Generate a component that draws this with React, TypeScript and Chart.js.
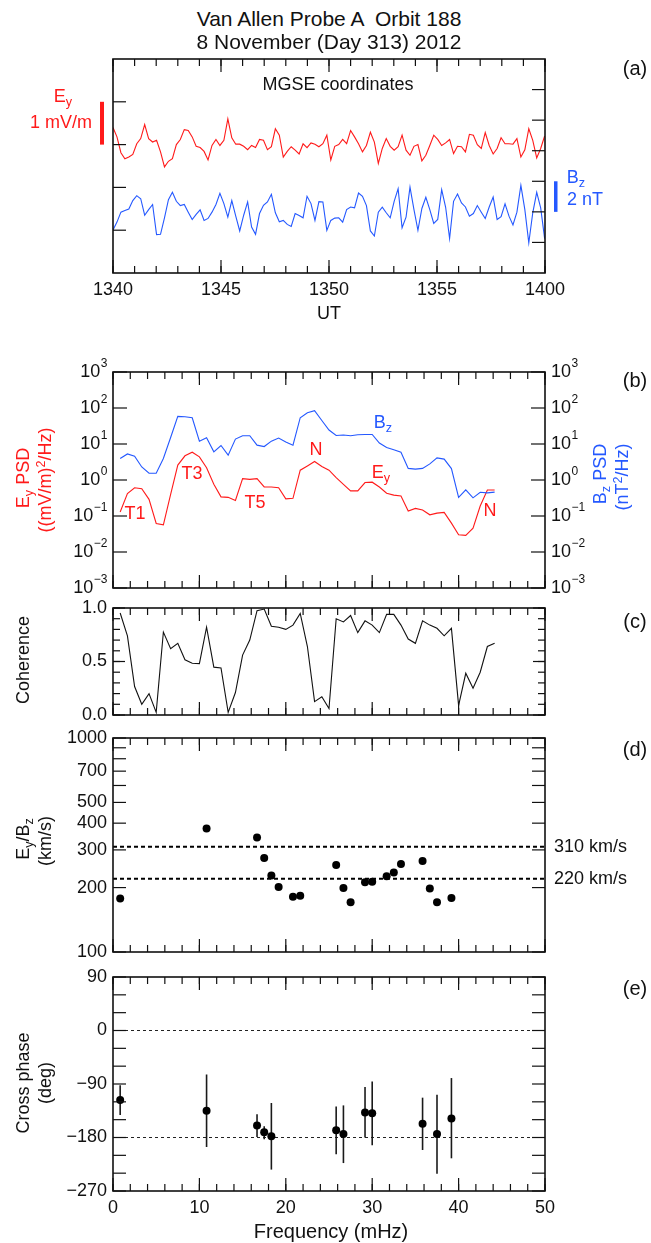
import React, { useEffect, useRef } from 'react';
import { Chart, registerables } from 'chart.js';

Chart.register(...registerables);

// ================= DATA =================
// Panel (a): 11-s spin-resolution time series, 13:40-14:00 UT
const SAMPLE_SECONDS = 11;
const EY_TRACE = [
  0.40, 0.18, -0.19, -0.33, -0.29, -0.23, 0.02, 0.14, 0.47, 0.14,
  0.06, 0.10, -0.17, -0.52, -0.39, -0.33, 0.00, 0.12, 0.35, 0.33,
  0.18, -0.04, -0.07, -0.16, -0.36, -0.02, 0.12, -0.02, 0.10, 0.60,
  0.16, 0.01, 0.01, -0.04, -0.12, -0.02, -0.07, 0.12, 0.10, -0.12,
  -0.05, 0.37, 0.22, -0.29, -0.16, -0.05, -0.13, -0.22, 0.02, -0.07,
  0.04, 0.01, -0.05, 0.02, 0.22, -0.36,
  -0.04, 0.00, 0.12, 0.02, 0.33, 0.18, 0.02, -0.17, -0.02, 0.29,
  0.06, -0.44, -0.09, 0.14, -0.04, -0.13, -0.05, 0.22, -0.13, -0.25,
  -0.04, 0.00, -0.38, -0.25, -0.02, 0.22, 0.12, -0.02, 0.04, 0.12,
  -0.21, -0.04, -0.05, -0.17, 0.24, 0.22, 0.00, -0.09, 0.28, -0.02,
  -0.22, -0.09, 0.16, 0.02, 0.02, 0.01, 0.14, -0.29, -0.12, 0.37,
  0.10, -0.31, -0.09, 0.20,
];
const BZ_TRACE = [
  -1.19, -0.67, -0.02, 0.09, 0.19, 0.74, 1.06, 0.86, -0.22, 0.15,
  0.48, -1.49, -1.47, -0.39, 0.80, 1.28, 0.69, 0.41, 0.48, -0.02,
  -0.50, -0.17, 0.13, -0.56, -0.43, -0.02, 0.48, 1.21, 0.54, -0.35,
  0.74, -0.28, -1.25, -0.22, 0.65, -0.99, -1.47, -0.11, 0.43, 0.65,
  1.15, -0.06, -0.65, -0.56, -0.82, -0.95, -0.11, -0.24, -0.39, 1.02,
  0.54, -0.56, 0.67, 0.65, -1.21, -0.56,
  -0.41, -0.39, -0.67, 0.15, 0.32, 0.26, 1.23, 1.02, 0.41, -1.25,
  -1.58, -0.02, 0.30, -0.06, -0.39, 0.69, 1.51, -1.04, -0.35, 1.62,
  0.15, -1.21, 0.22, 0.95, 0.15, -0.76, -0.50, 1.45, 0.30, -1.75,
  0.69, 1.17, 0.58, 0.32, -0.28, -0.11, 0.41, -0.02, -0.43, 0.32,
  0.97, -0.50, -0.32, 0.52, -0.28, -0.86, -0.02, 1.73, 0.15, -2.03,
  -0.06, 1.28, 0.26, -1.75,
];
const UT_SECONDS_RANGE = [0, 1200];
const UT_MAJOR_SECONDS = [0, 300, 600, 900, 1200];
const UT_TICK_LABELS = ['1340', '1345', '1350', '1355', '1400'];
const EY_AXIS_RANGE = [-3, 2]; // mV/m
const BZ_AXIS_RANGE = [-4, 10]; // nT
const EY_AXIS_TICKS = [-2, -1, 0, 1];
const BZ_AXIS_TICKS = [-2, 0, 2, 4, 6, 8];
const EY_SCALE_BAR = [0, 1]; // 1 mV/m
const BZ_SCALE_BAR = [0, 2]; // 2 nT

// Spectral panels
const FREQ_RANGE = [0, 50];
const FREQ_MHZ = [
  0.83, 1.67, 2.50, 3.33, 4.17, 5.00, 5.83, 6.67, 7.50, 8.33,
  9.17, 10.00, 10.83, 11.67, 12.50, 13.33, 14.17, 15.00, 15.83, 16.67,
  17.50, 18.33, 19.17, 20.00, 20.83, 21.67, 22.50, 23.33, 24.17, 25.00,
  25.83, 26.67, 27.50, 28.33, 29.17, 30.00, 30.83, 31.67, 32.50, 33.33,
  34.17, 35.00, 35.83, 36.67, 37.50, 38.33, 39.17, 40.00, 40.83, 41.67,
  42.50, 43.33, 44.17,
];
const BZ_PSD = [
  3.95, 5.3, 4.6, 2.3, 1.54, 1.54, 3.95, 15.2, 58.6, 57,
  53.7, 12, 14.9, 6.07, 9.1, 4.9, 13.7, 17, 17, 9.3,
  8.5, 12, 14.6, 11.3, 9.3, 53.7, 74, 84, 45, 24.4,
  17.3, 17.7, 17, 18, 18.4, 18.4, 10.6, 8.0, 6.9, 5.9,
  2.1, 2.0, 2.1, 2.8, 4.1, 3.8, 2.08, 0.33, 0.53, 0.32,
  0.455, 0.44, 0.46,
];
const EY_PSD = [
  0.129, 0.42, 0.61, 0.575, 0.29, 0.062, 0.057, 0.40, 2.6, 4.7,
  5.9, 4.4, 2.2, 0.76, 0.34, 0.33, 0.27, 1.09, 1.04, 1.09,
  0.64, 0.64, 0.61, 0.30, 0.31, 1.87, 2.46, 3.26, 2.37, 1.87,
  1.17, 0.76, 0.50, 0.50, 0.85, 0.87, 0.64, 0.43, 0.38, 0.36,
  0.137, 0.163, 0.146, 0.108, 0.12, 0.126, 0.0635, 0.030, 0.029, 0.046,
  0.19, 0.53, 0.53,
];
const COHERENCE = [
  0.953, 0.74, 0.266, 0.10, 0.20, 0.025, 0.775, 0.62, 0.67, 0.516,
  0.484, 0.48, 0.82, 0.447, 0.44, 0.025, 0.21, 0.56, 0.70, 0.975,
  0.99, 0.83, 0.82, 0.80, 0.84, 0.95, 0.64, 0.125, 0.17, 0.06,
  0.90, 0.87, 0.93, 0.77, 0.88, 0.84, 0.77, 0.94, 0.94, 0.84,
  0.71, 0.67, 0.88, 0.84, 0.81, 0.74, 0.81, 0.09, 0.39, 0.25,
  0.40, 0.64, 0.67,
];
const PSD_EXPONENTS = [-3, -2, -1, 0, 1, 2, 3];
const COH_RANGE = [0, 1];
const COH_LABEL_VALUES = [0, 0.5, 1];
const COH_LABELS = ['0.0', '0.5', '1.0'];

const RATIO_FREQ = [0.83, 10.83, 16.67, 17.50, 18.33, 19.17, 20.83, 21.67, 25.83, 26.67,
  27.50, 29.17, 30.00, 31.67, 32.50, 33.33, 35.83, 36.67, 37.50, 39.17];
const RATIO_KMS = [178, 378, 343, 275, 228, 201, 181, 183, 255, 199,
  171, 212, 213, 226, 235, 258, 266, 198, 171, 179];
const RATIO_RANGE = [100, 1000];
const RATIO_TICKS = [100, 200, 300, 400, 500, 600, 700, 800, 900, 1000];
const RATIO_LABELED = [100, 200, 300, 400, 500, 700, 1000];
const SPEED_REFS = [310, 220];

const PHASE_FREQ = [0.83, 10.83, 16.67, 17.50, 18.33, 25.83, 26.67, 29.17, 30.00, 35.83, 37.50, 39.17];
const PHASE_DEG = [-117, -135, -160, -171, -178, -168, -174, -138, -139, -157, -174, -148];
const PHASE_LO = [-142, -196, -179, -183, -234, -208, -223, -180, -193, -201, -241, -215];
const PHASE_HI = [-92, -74, -141, -161, -122, -128, -126, -95, -86, -113, -108, -80];
const PHASE_RANGE = [-270, 90];
const PHASE_LABELED = [-270, -180, -90, 0, 90];
const PHASE_REFS = [0, -180];
const FREQ_MAJOR = [0, 10, 20, 30, 40, 50];

// ================= STYLE / LAYOUT =================
const FONT = "'Liberation Sans', Arial, Helvetica, sans-serif";
const RED = '#ff1a1a';
const BLUE = '#2458ff';
const INK = '#111111';
const W = 651;
const PLOT_LEFT = 113;
const PLOT_RIGHT = 545;

type Box = { top: number; bottom: number; cTop: number; cBottom: number };
const BOX_A: Box = { top: 59, bottom: 273, cTop: 50, cBottom: 304 };
const BOX_B: Box = { top: 372, bottom: 588, cTop: 355, cBottom: 596 };
const BOX_C: Box = { top: 608, bottom: 715, cTop: 598, cBottom: 724 };
const BOX_D: Box = { top: 738, bottom: 952, cTop: 728, cBottom: 962 };
const BOX_E: Box = { top: 977, bottom: 1191, cTop: 966, cBottom: 1243 };

function steps(a: number, b: number, step: number) {
  const out: number[] = [];
  for (let v = a; v <= b + 1e-9; v += step) out.push(Math.round(v * 1000) / 1000);
  return out;
}

function seg(ctx: CanvasRenderingContext2D, x1: number, y1: number, x2: number, y2: number) {
  ctx.beginPath();
  ctx.moveTo(x1, y1);
  ctx.lineTo(x2, y2);
  ctx.stroke();
}

function frame(chart: any) {
  const { ctx, chartArea: a } = chart;
  ctx.strokeStyle = INK;
  ctx.lineWidth = 1.6;
  ctx.strokeRect(a.left, a.top, a.right - a.left, a.bottom - a.top);
}

function xTicks(chart: any, id: string, values: number[], len: number) {
  const { ctx, chartArea: a } = chart;
  const s = chart.scales[id];
  ctx.strokeStyle = INK;
  ctx.lineWidth = 1.2;
  values.forEach((v) => {
    const x = s.getPixelForValue(v);
    seg(ctx, x, a.bottom, x, a.bottom - len);
    seg(ctx, x, a.top, x, a.top + len);
  });
}

function yTicks(chart: any, id: string, values: number[], len: number, side: 'left' | 'right' | 'both') {
  const { ctx, chartArea: a } = chart;
  const s = chart.scales[id];
  ctx.strokeStyle = INK;
  ctx.lineWidth = 1.2;
  values.forEach((v) => {
    const y = s.getPixelForValue(v);
    if (side !== 'right') seg(ctx, a.left, y, a.left + len, y);
    if (side !== 'left') seg(ctx, a.right, y, a.right - len, y);
  });
}

function xLabels(chart: any, id: string, values: number[], texts: string[], dy: number) {
  const { ctx, chartArea: a } = chart;
  const s = chart.scales[id];
  ctx.fillStyle = INK;
  ctx.font = `18px ${FONT}`;
  ctx.textAlign = 'center';
  ctx.textBaseline = 'middle';
  values.forEach((v, i) => ctx.fillText(texts[i], s.getPixelForValue(v), a.bottom + dy));
}

function yLabels(chart: any, id: string, values: number[], texts: string[], gap: number) {
  const { ctx, chartArea: a } = chart;
  const s = chart.scales[id];
  ctx.fillStyle = INK;
  ctx.font = `18px ${FONT}`;
  ctx.textAlign = 'right';
  ctx.textBaseline = 'middle';
  values.forEach((v, i) => ctx.fillText(texts[i], a.left - gap, s.getPixelForValue(v)));
}

function powLabels(chart: any, id: string, exps: number[], side: 'left' | 'right', gap: number) {
  const { ctx, chartArea: a } = chart;
  const s = chart.scales[id];
  ctx.fillStyle = INK;
  ctx.textBaseline = 'middle';
  ctx.textAlign = 'left';
  exps.forEach((e) => {
    const y = s.getPixelForValue(Math.pow(10, e));
    const sup = e < 0 ? '\u2212' + Math.abs(e) : String(e);
    ctx.font = `18px ${FONT}`;
    const wb = ctx.measureText('10').width;
    ctx.font = `12px ${FONT}`;
    const ws = ctx.measureText(sup).width;
    const x0 = side === 'left' ? a.left - gap - wb - ws : a.right + gap;
    ctx.font = `18px ${FONT}`;
    ctx.fillText('10', x0, y);
    ctx.font = `12px ${FONT}`;
    ctx.fillText(sup, x0 + wb + 0.5, y - 8);
  });
}

function freqTicks(chart: any) {
  xTicks(chart, 'x', steps(FREQ_RANGE[0], FREQ_RANGE[1], 2), 7);
  xTicks(chart, 'x', FREQ_MAJOR, 13);
}

function makeConfig(box: Box, scales: any, datasets: any[], draw: (c: any) => void) {
  return {
    type: 'line',
    data: { datasets },
    options: {
      responsive: false,
      maintainAspectRatio: false,
      animation: false,
      devicePixelRatio: 1,
      events: [],
      layout: {
        padding: {
          left: PLOT_LEFT,
          right: W - PLOT_RIGHT,
          top: box.top - box.cTop,
          bottom: box.cBottom - box.bottom,
        },
      },
      plugins: { legend: { display: false }, tooltip: { enabled: false }, title: { display: false } },
      scales,
    },
    plugins: [
      {
        id: 'panelDecor',
        afterDatasetsDraw(chart: any) {
          chart.ctx.save();
          draw(chart);
          chart.ctx.restore();
        },
      },
    ],
  };
}

const freqScale = { type: 'linear', min: FREQ_RANGE[0], max: FREQ_RANGE[1], display: false };

// ---------- panel builders ----------
function buildA() {
  const ds = [
    {
      data: EY_TRACE.map((v, i) => ({ x: i * SAMPLE_SECONDS, y: v })),
      borderColor: RED, borderWidth: 1.1, pointRadius: 0, yAxisID: 'yE',
    },
    {
      data: BZ_TRACE.map((v, i) => ({ x: i * SAMPLE_SECONDS, y: v })),
      borderColor: BLUE, borderWidth: 1.1, pointRadius: 0, yAxisID: 'yB',
    },
  ];
  const scales = {
    x: { type: 'linear', min: UT_SECONDS_RANGE[0], max: UT_SECONDS_RANGE[1], display: false },
    yE: { type: 'linear', min: EY_AXIS_RANGE[0], max: EY_AXIS_RANGE[1], display: false },
    yB: { type: 'linear', min: BZ_AXIS_RANGE[0], max: BZ_AXIS_RANGE[1], display: false, position: 'right' },
  };
  return makeConfig(BOX_A, scales, ds, (chart) => {
    const { ctx } = chart;
    frame(chart);
    xTicks(chart, 'x', steps(UT_SECONDS_RANGE[0], UT_SECONDS_RANGE[1], 60), 7);
    xTicks(chart, 'x', UT_MAJOR_SECONDS, 13);
    yTicks(chart, 'yE', EY_AXIS_TICKS, 13, 'left');
    yTicks(chart, 'yB', BZ_AXIS_TICKS, 13, 'right');
    xLabels(chart, 'x', UT_MAJOR_SECONDS, UT_TICK_LABELS, 17);
    // scale bars
    const sE = chart.scales.yE;
    const e0 = sE.getPixelForValue(EY_SCALE_BAR[0]);
    const e1 = sE.getPixelForValue(EY_SCALE_BAR[1]);
    ctx.fillStyle = RED;
    ctx.fillRect(100, e1, 4, e0 - e1);
    const sB = chart.scales.yB;
    const b0 = sB.getPixelForValue(BZ_SCALE_BAR[0]);
    const b1 = sB.getPixelForValue(BZ_SCALE_BAR[1]);
    ctx.fillStyle = BLUE;
    ctx.fillRect(554, b1, 3.5, b0 - b1);
  });
}

function buildB() {
  const ds = [
    { data: BZ_PSD.map((v, i) => ({ x: FREQ_MHZ[i], y: v })), borderColor: BLUE, borderWidth: 1.1, pointRadius: 0 },
    { data: EY_PSD.map((v, i) => ({ x: FREQ_MHZ[i], y: v })), borderColor: RED, borderWidth: 1.1, pointRadius: 0 },
  ];
  const scales = {
    x: freqScale,
    y: { type: 'logarithmic', min: Math.pow(10, PSD_EXPONENTS[0]), max: Math.pow(10, PSD_EXPONENTS[PSD_EXPONENTS.length - 1]), display: false },
  };
  return makeConfig(BOX_B, scales, ds, (chart) => {
    frame(chart);
    freqTicks(chart);
    yTicks(chart, 'y', PSD_EXPONENTS.map((e) => Math.pow(10, e)), 14, 'both');
    powLabels(chart, 'y', PSD_EXPONENTS, 'left', 6);
    powLabels(chart, 'y', PSD_EXPONENTS, 'right', 6);
  });
}

function buildC() {
  const ds = [
    { data: COHERENCE.map((v, i) => ({ x: FREQ_MHZ[i], y: v })), borderColor: INK, borderWidth: 1.1, pointRadius: 0 },
  ];
  const scales = { x: freqScale, y: { type: 'linear', min: COH_RANGE[0], max: COH_RANGE[1], display: false } };
  return makeConfig(BOX_C, scales, ds, (chart) => {
    frame(chart);
    freqTicks(chart);
    yTicks(chart, 'y', steps(COH_RANGE[0], COH_RANGE[1], 0.1), 7, 'both');
    yTicks(chart, 'y', COH_LABEL_VALUES, 12, 'both');
    yLabels(chart, 'y', COH_LABEL_VALUES, COH_LABELS, 6);
  });
}

function buildD() {
  const ds: any[] = [
    {
      data: RATIO_KMS.map((v, i) => ({ x: RATIO_FREQ[i], y: v })),
      showLine: false, pointRadius: 4, pointBackgroundColor: '#000', pointBorderWidth: 0, borderColor: '#000',
    },
    ...SPEED_REFS.map((v) => ({
      data: [{ x: FREQ_RANGE[0], y: v }, { x: FREQ_RANGE[1], y: v }],
      borderColor: '#000', borderWidth: 2, borderDash: [4, 3], pointRadius: 0,
    })),
  ];
  const scales = { x: freqScale, y: { type: 'logarithmic', min: RATIO_RANGE[0], max: RATIO_RANGE[1], display: false } };
  return makeConfig(BOX_D, scales, ds, (chart) => {
    const { ctx, chartArea: a } = chart;
    frame(chart);
    freqTicks(chart);
    yTicks(chart, 'y', RATIO_TICKS, 13, 'both');
    yLabels(chart, 'y', RATIO_LABELED, RATIO_LABELED.map(String), 6);
    ctx.fillStyle = INK;
    ctx.font = `18px ${FONT}`;
    ctx.textAlign = 'left';
    ctx.textBaseline = 'middle';
    SPEED_REFS.forEach((v) => ctx.fillText(`${v} km/s`, a.right + 9, chart.scales.y.getPixelForValue(v)));
  });
}

function buildE() {
  const ds: any[] = [
    {
      data: PHASE_DEG.map((v, i) => ({ x: PHASE_FREQ[i], y: v })),
      showLine: false, pointRadius: 4, pointBackgroundColor: '#000', pointBorderWidth: 0, borderColor: '#000',
    },
    ...PHASE_FREQ.map((f, i) => ({
      data: [{ x: f, y: PHASE_LO[i] }, { x: f, y: PHASE_HI[i] }],
      borderColor: '#1a1a1a', borderWidth: 1.6, pointRadius: 0,
    })),
    ...PHASE_REFS.map((v) => ({
      data: [{ x: FREQ_RANGE[0], y: v }, { x: FREQ_RANGE[1], y: v }],
      borderColor: '#222', borderWidth: 1, borderDash: [3, 3], pointRadius: 0,
    })),
  ];
  const scales = { x: freqScale, y: { type: 'linear', min: PHASE_RANGE[0], max: PHASE_RANGE[1], display: false } };
  return makeConfig(BOX_E, scales, ds, (chart) => {
    frame(chart);
    freqTicks(chart);
    yTicks(chart, 'y', steps(PHASE_RANGE[0], PHASE_RANGE[1], 30), 13, 'both');
    yLabels(chart, 'y', PHASE_LABELED, PHASE_LABELED.map((v) => (v < 0 ? '\u2212' + Math.abs(v) : String(v))), 6);
    xLabels(chart, 'x', FREQ_MAJOR, FREQ_MAJOR.map(String), 17);
  });
}

// ================= COMPONENTS =================
function ChartPanel({ box, build }: { box: Box; build: () => any }) {
  const ref = useRef<HTMLCanvasElement | null>(null);
  useEffect(() => {
    if (!ref.current) return;
    const chart = new Chart(ref.current, build() as any);
    return () => chart.destroy();
  }, []);
  const h = box.cBottom - box.cTop;
  return (
    <canvas
      ref={ref}
      width={W}
      height={h}
      style={{ position: 'absolute', left: 0, top: box.cTop, width: W, height: h }}
    />
  );
}

function T({ x, y, size = 18, color = INK, rotate = false, children }: any) {
  return (
    <div
      style={{
        position: 'absolute',
        left: x,
        top: y,
        transform: rotate ? 'translate(-50%, -50%) rotate(-90deg)' : 'translate(-50%, -50%)',
        fontFamily: FONT,
        fontSize: size,
        color,
        whiteSpace: 'pre',
        lineHeight: 1,
        pointerEvents: 'none',
      }}
    >
      {children}
    </div>
  );
}

const subStyle: any = { fontSize: '0.7em', verticalAlign: '-0.3em', lineHeight: 0 };
const supStyle: any = { fontSize: '0.7em', verticalAlign: '0.45em', lineHeight: 0 };

export default function App() {
  return (
    <div style={{ position: 'absolute', left: 0, top: 0, width: W, height: 1243, background: '#fff', overflow: 'hidden' }}>
      <ChartPanel box={BOX_A} build={buildA} />
      <ChartPanel box={BOX_B} build={buildB} />
      <ChartPanel box={BOX_C} build={buildC} />
      <ChartPanel box={BOX_D} build={buildD} />
      <ChartPanel box={BOX_E} build={buildE} />

      <T x={329} y={18} size={21}>Van Allen Probe A  Orbit 188</T>
      <T x={329} y={41} size={21}>8 November (Day 313) 2012</T>

      <T x={635} y={68} size={20}>(a)</T>
      <T x={635} y={BOX_B.top + 8} size={20}>(b)</T>
      <T x={635} y={BOX_C.top + 13} size={20}>(c)</T>
      <T x={635} y={BOX_D.top + 11} size={20}>(d)</T>
      <T x={635} y={BOX_E.top + 11} size={20}>(e)</T>

      <T x={338} y={84}>MGSE coordinates</T>
      <T x={63} y={96} color={RED}>E<span style={subStyle}>y</span></T>
      <T x={61} y={122} color={RED}>1 mV/m</T>
      <T x={576} y={177} color={BLUE}>B<span style={subStyle}>z</span></T>
      <T x={585} y={199} color={BLUE}>2 nT</T>
      <T x={329} y={313}>UT</T>

      <T x={135} y={513} color={RED}>T1</T>
      <T x={192} y={473} color={RED}>T3</T>
      <T x={255} y={502} color={RED}>T5</T>
      <T x={316} y={449} color={RED}>N</T>
      <T x={381} y={472} color={RED}>E<span style={subStyle}>y</span></T>
      <T x={383} y={422} color={BLUE}>B<span style={subStyle}>z</span></T>
      <T x={490} y={510} color={RED}>N</T>

      <T x={23} y={478} color={RED} rotate>E<span style={subStyle}>y</span> PSD</T>
      <T x={45} y={480} color={RED} rotate>((mV/m)<span style={supStyle}>2</span>/Hz)</T>
      <T x={600} y={474} color={BLUE} rotate>B<span style={subStyle}>z</span> PSD</T>
      <T x={622} y={477} color={BLUE} rotate>(nT<span style={supStyle}>2</span>/Hz)</T>

      <T x={23} y={660} rotate>Coherence</T>
      <T x={23} y={839} rotate>E<span style={subStyle}>y</span>/B<span style={subStyle}>z</span></T>
      <T x={45} y={841} rotate>(km/s)</T>
      <T x={23} y={1083} rotate>Cross phase</T>
      <T x={45} y={1083} rotate>(deg)</T>
      <T x={331} y={1231} size={20}>Frequency (mHz)</T>
    </div>
  );
}
